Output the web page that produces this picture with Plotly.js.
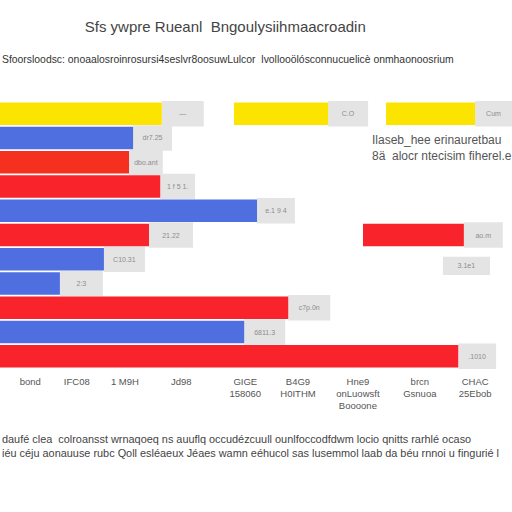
<!DOCTYPE html>
<html>
<head>
<meta charset="utf-8">
<script src="https://cdn.plot.ly/plotly-3.0.1.min.js"></script>
<style>html,body{margin:0;padding:0;background:#fff;}#chart{width:512px;height:512px;}</style>
</head>
<body>
<div id="chart"></div>
<script>
// categories (rows, top to bottom)
var categories = ['R1','R2','R3','R4','R5','R6','R7','R8','R9','R10','R11'];
// main bar values (start at 0)
var mainValues = [31.6, 26.0, 25.2, 31.3, 50.2, 29.1, 20.3, 11.7, 56.3, 47.7, 89.5];
var mainColors = ['#fbe500','#4f6fe0','#f5301f','#f8232b','#4f6fe0','#f8232b','#4f6fe0','#4f6fe0','#f8232b','#4f6fe0','#f8232b'];
// label box widths following each main bar
var boxWidths = [8.2, 7.6, 6.6, 6.8, 7.4, 8.6, 8.0, 8.4, 8.2, 8.0, 7.4];
var boxLabels = ['—', 'dr7.25', 'dbo.ant', '1 f 5 1.', 'e.1 9 4', '21.22', 'C10.31', '2:3', 'c7p.0n', '6811.3', '.1010'];
// extra floating segments
var floatCats = ['R1','R1','R6'];
var floatBases = [45.7, 75.4, 70.9];
var floatValues = [18.4, 17.4, 19.7];
var floatColors = ['#fbe500','#fbe500','#f8232b'];
var floatBoxWidths = [7.8, 7.2, 7.6];
var floatBoxLabels = ['C.O', 'Cum', 'ao.m'];
// lone label box
var loneCats = ['R7'];
var loneBases = [86.5];
var loneWidths = [9.2];
var loneLabels = ['3.1e1'];
// x tick labels
var tickVals = [5.9, 15.0, 24.4, 35.4, 47.9, 58.2, 69.9, 82.0, 92.8];
var tickLabels = ['bond', 'IFC08', '1 M9H', 'Jd98', 'GIGE<br>158060', 'B4G9<br>H0ITHM', 'Hne9<br>onLuowsft<br>Boooone', 'brcn<br>Gsnuoa', 'CHAC<br>25Ebob'];

var gray = '#e4e4e4';
var boxFont = {size: 7, color: '#8c8c8c', family: 'Liberation Sans'};

var traces = [];
// gray label boxes behind
traces.push({
  type: 'bar', orientation: 'h', y: categories, x: boxWidths, base: mainValues,
  marker: {color: gray}, width: 1.05, text: boxLabels, textposition: 'inside',
  insidetextanchor: 'middle', textangle: 0, constraintext: 'none', textfont: boxFont,
  hoverinfo: 'skip', showlegend: false
});
traces.push({
  type: 'bar', orientation: 'h', y: floatCats,
  x: floatBoxWidths, base: floatBases.map(function(b, i){ return b + floatValues[i]; }),
  marker: {color: gray}, width: 1.05, text: floatBoxLabels, textposition: 'inside',
  insidetextanchor: 'middle', textangle: 0, constraintext: 'none', textfont: boxFont,
  hoverinfo: 'skip', showlegend: false
});
traces.push({
  type: 'bar', orientation: 'h', y: loneCats, x: loneWidths, base: loneBases,
  marker: {color: gray}, width: 0.75, offset: -0.1, text: loneLabels, textposition: 'inside',
  insidetextanchor: 'middle', textangle: 0, constraintext: 'none', textfont: boxFont,
  hoverinfo: 'skip', showlegend: false
});
// main bars
traces.push({
  type: 'bar', orientation: 'h', y: categories, x: mainValues, base: 0,
  marker: {color: mainColors}, width: 0.92, showlegend: false
});
traces.push({
  type: 'bar', orientation: 'h', y: floatCats, x: floatValues, base: floatBases,
  marker: {color: floatColors}, width: 0.92, showlegend: false
});

var layout = {
  width: 512, height: 512,
  margin: {l: 0, r: 0, t: 101, b: 143},
  paper_bgcolor: '#ffffff', plot_bgcolor: '#ffffff',
  barmode: 'overlay',
  title: {text: 'Sfs ywpre Rueanl &nbsp;Bngoulysiihmaacroadin', x: 0.44, xanchor: 'center', y: 0.947, yanchor: 'middle',
          font: {family: 'Liberation Sans Narrow, Liberation Sans', size: 15, color: '#444444'}},
  xaxis: {range: [0, 100], showgrid: false, zeroline: false, showline: false,
          tickmode: 'array', tickvals: tickVals, ticktext: tickLabels, ticks: '', ticklabelstandoff: 5,
          tickfont: {family: 'Liberation Sans Narrow, Liberation Sans', size: 9.5, color: '#555555'}, fixedrange: true},
  yaxis: {categoryorder: 'array', categoryarray: categories, autorange: 'reversed',
          showticklabels: false, showgrid: false, zeroline: false, showline: false, ticks: ''},
  annotations: [
    {text: 'Sfoorsloodsc: onoaalosroinrosursi4seslvr8oosuwLulcor &nbsp;lvolloo\u00f6l\u00f3sconnucuelic\u00e8 onmhaonoosrium',
     xref: 'paper', yref: 'paper', x: 0, y: 1.153, xanchor: 'left', yanchor: 'middle', showarrow: false,
     font: {family: 'Liberation Sans Narrow, Liberation Sans', size: 10.4, color: '#333333'}},
    {text: 'Ilaseb_hee erinauretbau<br>8\u00e4 &nbsp;alocr ntecisim fiherel.e',
     xref: 'paper', yref: 'paper', x: 0.722, y: 0.825, xanchor: 'left', yanchor: 'middle', align: 'left', showarrow: false,
     font: {family: 'Liberation Sans Narrow, Liberation Sans', size: 12, color: '#555555'}},
    {text: 'dauf\u00e9 clea &nbsp;colroansst wrnaqoeq ns auuflq occud\u00e9zcuull ounlfoccodfdwm locio qnitts rarhl\u00e9 ocaso<br>i\u00e9u c\u00e9ju aonauuse rubc Qoll esl\u00e9aeux J\u00e9aes wamn e\u00e9hucol sas lusemmol laab da b\u00e9u rnnoi u finguri\u00e9 l',
     xref: 'paper', yref: 'paper', x: 0, y: -0.287, xanchor: 'left', yanchor: 'middle', align: 'left', showarrow: false,
     font: {family: 'Liberation Sans Narrow, Liberation Sans', size: 10.9, color: '#444444'}}
  ],
  showlegend: false
};

Plotly.newPlot('chart', traces, layout, {displayModeBar: false, staticPlot: true});
</script>
</body>
</html>
